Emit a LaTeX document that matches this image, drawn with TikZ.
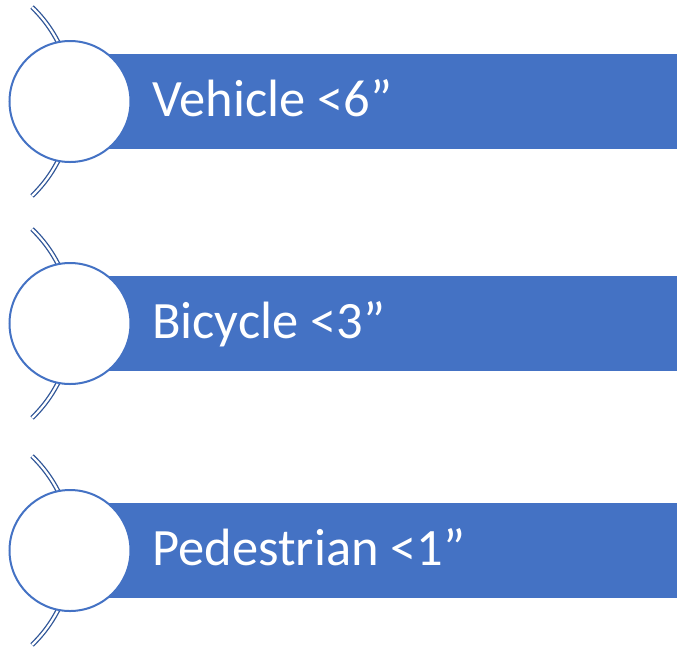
\documentclass[tikz,border=0pt]{standalone}
\usepackage{fontspec}
\setmainfont{Carlito}
\definecolor{barblue}{HTML}{4472C4}
\definecolor{arcblue}{HTML}{2F5597}
\begin{document}
\begin{tikzpicture}[x=1pt,y=-1pt,
  bar/.style={rectangle, fill=barblue, draw=none, minimum width=569pt, minimum height=95pt, inner sep=0pt, anchor=west},
  disc/.style={circle, fill=white, draw=barblue, line width=2pt, minimum size=121pt, inner sep=0pt},
  bartext/.style={anchor=base west, text=white, font=\fontsize{52.5}{60}\selectfont, inner sep=0pt},
  bracket/.style={draw=arcblue, double=white, double distance=2.2pt, line width=1.3pt}]
\useasboundingbox (0,0) rectangle (677,649);
\foreach \cy/\nm/\txt in {101.5/a/{Vehicle <6”}, 323.5/b/{Bicycle <3”}, 550.5/c/{Pedestrian <1”}}{
  \draw[bracket] ({-58.5+130.8*cos(-46.2)},{\cy+130.8*sin(-46.2)}) arc[start angle=-46.2, end angle=46.2, radius=130.8];
  \node[bar] (bar\nm) at (108,\cy) {};
  \node[disc] (disc\nm) at (70,\cy) {};
  \node[bartext] (txt\nm) at (152,\cy+14.5) {\txt};
}
\end{tikzpicture}
\end{document}
